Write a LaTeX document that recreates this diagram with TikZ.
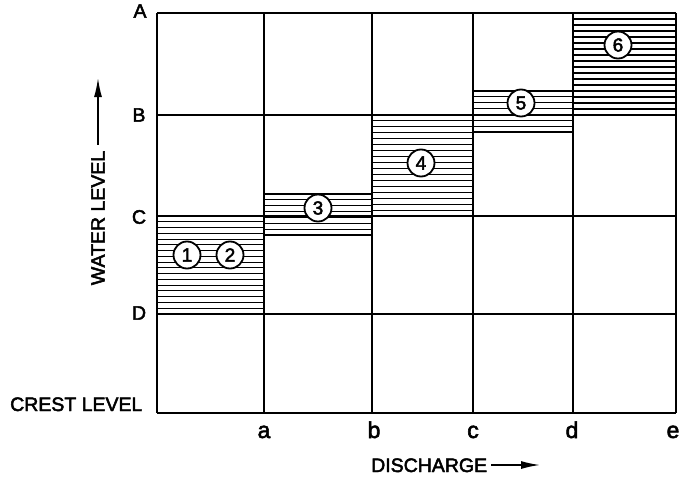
\documentclass[tikz,border=0pt]{standalone}
\usepackage{fontspec}
\setmainfont{Liberation Sans}[FakeBold=2.5]
\usetikzlibrary{arrows.meta}
\tikzset{
  gridline/.style={line width=1.8pt},
  hatchline/.style={line width=1.1pt},
  num/.style={circle, draw, line width=1.8pt, fill=white, minimum size=27pt, inner sep=0pt, font=\fontsize{19}{19}\selectfont},
  lvl/.style={font=\fontsize{19.5}{20}\selectfont},
  low/.style={font=\fontsize{23}{24}\selectfont, anchor=base},
  axarrow/.style={line width=1.5pt, -{Latex[length=19pt,width=8pt]}}
}
\begin{document}
\begin{tikzpicture}[x=1pt,y=-1pt]
\useasboundingbox (0,0) rectangle (691,487);
% hatching
\foreach \i in {0,...,17} \draw[hatchline] (157,{216+\i*98/17}) -- (264,{216+\i*98/17});
\foreach \i in {0,...,7} \draw[hatchline] (264,{194+\i*41/7}) -- (372,{194+\i*41/7});
\foreach \i in {0,...,17} \draw[hatchline] (372,{115+\i*101/17}) -- (473,{115+\i*101/17});
\foreach \i in {0,...,7} \draw[hatchline] (473,{91+\i*41/7}) -- (573,{91+\i*41/7});
\foreach \i in {0,...,17} \draw[hatchline] (573,{13+\i*102/17}) -- (676,{13+\i*102/17});
% grid
\foreach \x in {157,264,372,473,573,676} \draw[gridline] (\x,13) -- (\x,413);
\foreach \y in {13,115,216,314,413} \draw[gridline] (157,\y) -- (676,\y);
% numbered circles
\node[num] (n1) at (187,255) {1};
\node[num] (n2) at (230,255) {2};
\node[num] (n3) at (318,208) {3};
\node[num] (n4) at (421,163) {4};
\node[num] (n5) at (521,103) {5};
\node[num] (n6) at (618,45) {6};
% level labels
\node[lvl] (lA) at (140,11) {A};
\node[lvl] (lB) at (139,115) {B};
\node[lvl] (lC) at (139,217) {C};
\node[lvl] (lD) at (139,313) {D};
\node[lvl, anchor=base west, inner sep=0pt] (crest) at (10,411) {CREST LEVEL};
% discharge labels
\node[low, inner sep=0pt] (qa) at (264,438) {a};
\node[low, inner sep=0pt] (qb) at (374,438) {b};
\node[low, inner sep=0pt] (qc) at (473,438) {c};
\node[low, inner sep=0pt] (qd) at (572,438) {d};
\node[low, inner sep=0pt] (qe) at (673,438) {e};
% axis titles
\node[lvl, anchor=base west, inner sep=0pt] (dis) at (371,472) {DISCHARGE};
\coordinate (disE) at (540,465);
\draw[axarrow] (dis.base east |- disE) ++(4,0) -- (disE);
\node[lvl, rotate=90, inner sep=0pt] (wl) at (98,218) {WATER LEVEL};
\coordinate (wlE) at (98,78);
\draw[axarrow] ([yshift=6pt]wl.east) -- (wlE);
\end{tikzpicture}
\end{document}
